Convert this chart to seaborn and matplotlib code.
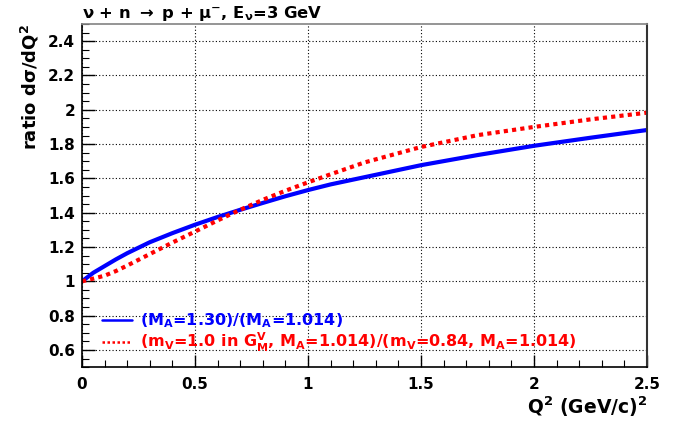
import numpy as np
import pandas as pd
import matplotlib
matplotlib.use("Agg")
import matplotlib.pyplot as plt
import seaborn as sns
from matplotlib.ticker import MultipleLocator

q2 = [0.0, 0.05, 0.1, 0.15, 0.2, 0.3, 0.4, 0.5, 0.6, 0.7, 0.8, 0.9, 1.0,
      1.1, 1.25, 1.5, 1.75, 2.0, 2.25, 2.5]
ratio_ma = [1.0, 1.05, 1.089, 1.128, 1.164, 1.228, 1.281, 1.33, 1.375, 1.417, 1.457,
            1.496, 1.532, 1.565, 1.607, 1.677, 1.736, 1.79, 1.837, 1.882]
ratio_mv = [1.0, 1.016, 1.033, 1.06, 1.092, 1.159, 1.226, 1.29, 1.355, 1.417, 1.475,
            1.528, 1.577, 1.624, 1.693, 1.783, 1.852, 1.90, 1.944, 1.983]
label_ma = r"(M$_{A}$=1.30)/(M$_{A}$=1.014)"
label_mv = r"(m$_{V}$=1.0 in G$_{M}^{V}$, M$_{A}$=1.014)/(m$_{V}$=0.84, M$_{A}$=1.014)"
xticks = [0, 0.5, 1, 1.5, 2, 2.5]
xticklabels = ["0", "0.5", "1", "1.5", "2", "2.5"]
yticks = [0.6, 0.8, 1.0, 1.2, 1.4, 1.6, 1.8, 2.0, 2.2, 2.4]
yticklabels = ["0.6", "0.8", "1", "1.2", "1.4", "1.6", "1.8", "2", "2.2", "2.4"]

sns.set_theme(style="white")
plt.rcParams["font.family"] = ["DejaVu Sans"]
plt.rcParams["font.weight"] = "bold"
plt.rcParams["text.color"] = "black"
plt.rcParams["axes.labelcolor"] = "black"
plt.rcParams["xtick.color"] = "black"
plt.rcParams["ytick.color"] = "black"
plt.rcParams["mathtext.fontset"] = "custom"
plt.rcParams["mathtext.rm"] = "DejaVu Sans:bold"
plt.rcParams["mathtext.bf"] = "DejaVu Sans:bold"
plt.rcParams["mathtext.it"] = "DejaVu Sans:bold"
plt.rcParams["mathtext.sf"] = "DejaVu Sans:bold"
plt.rcParams["mathtext.default"] = "bf"

df = pd.concat([
    pd.DataFrame({"Q2": q2, "ratio": ratio_ma, "curve": label_ma}),
    pd.DataFrame({"Q2": q2, "ratio": ratio_mv, "curve": label_mv}),
])

fig = plt.figure(figsize=(6.91, 4.21), dpi=100)
ax = fig.add_axes([0.1187, 0.128, 0.8176, 0.815])

sns.lineplot(data=df[df.curve == label_ma], x="Q2", y="ratio", color="#0000ff",
             lw=3, ax=ax, label=label_ma)
sns.lineplot(data=df[df.curve == label_mv], x="Q2", y="ratio", color="#ff0000",
             lw=3, ls=(0, (1, 1)), ax=ax, label=label_mv)

ax.set_xlim(0, 2.5)
ax.set_ylim(0.5, 2.5)
ax.set_xticks(xticks)
ax.set_xticklabels(xticklabels)
ax.set_yticks(yticks)
ax.set_yticklabels(yticklabels)
ax.xaxis.set_minor_locator(MultipleLocator(0.1))
ax.yaxis.set_minor_locator(MultipleLocator(0.05))
ax.tick_params(axis="both", which="major", direction="in", length=9, width=1,
               labelsize=11, color="black", labelcolor="black",
               bottom=True, left=True, top=False, right=False)
ax.tick_params(axis="both", which="minor", direction="in", length=5, width=0.8,
               color="black", bottom=True, left=True, top=False, right=False)
for lab in ax.get_xticklabels() + ax.get_yticklabels():
    lab.set_fontweight("bold")
ax.tick_params(axis="x", pad=7)
ax.tick_params(axis="y", pad=5)

ax.grid(True, which="major", color="black", ls=(0, (1, 2)), lw=0.8)
ax.spines["left"].set_color("black")
ax.spines["bottom"].set_color("black")
ax.spines["left"].set_linewidth(1.2)
ax.spines["bottom"].set_linewidth(1.2)
ax.spines["top"].set_color("#888888")
ax.spines["right"].set_color("#333333")
ax.spines["right"].set_linewidth(1.5)

ax.set_xlabel(r"Q$^{2}$ (GeV/c)$^{2}$", loc="right", fontsize=13.5, fontweight="bold",
              labelpad=2, color="black")
ax.set_ylabel(r"ratio d$\sigma$/dQ$^{2}$", loc="top", fontsize=13, fontweight="bold",
              labelpad=5, color="black")

fig.text(0.118, 0.968, r"$\nu$ + n $\rightarrow$ p + $\mu^{-}$, E$_{\nu}$=3 GeV",
         fontsize=11.8, fontweight="bold", ha="left", va="center", color="black")

leg = ax.legend(loc="lower left", bbox_to_anchor=(0.01, -0.005), frameon=False,
                handlelength=1.9, handletextpad=0.5, labelspacing=0.05,
                fontsize=11.5, labelcolor="linecolor")
for line in leg.get_lines():
    line.set_linewidth(1.8)
for t in leg.get_texts():
    t.set_fontweight("bold")

fig.savefig("out.png", dpi=100)
